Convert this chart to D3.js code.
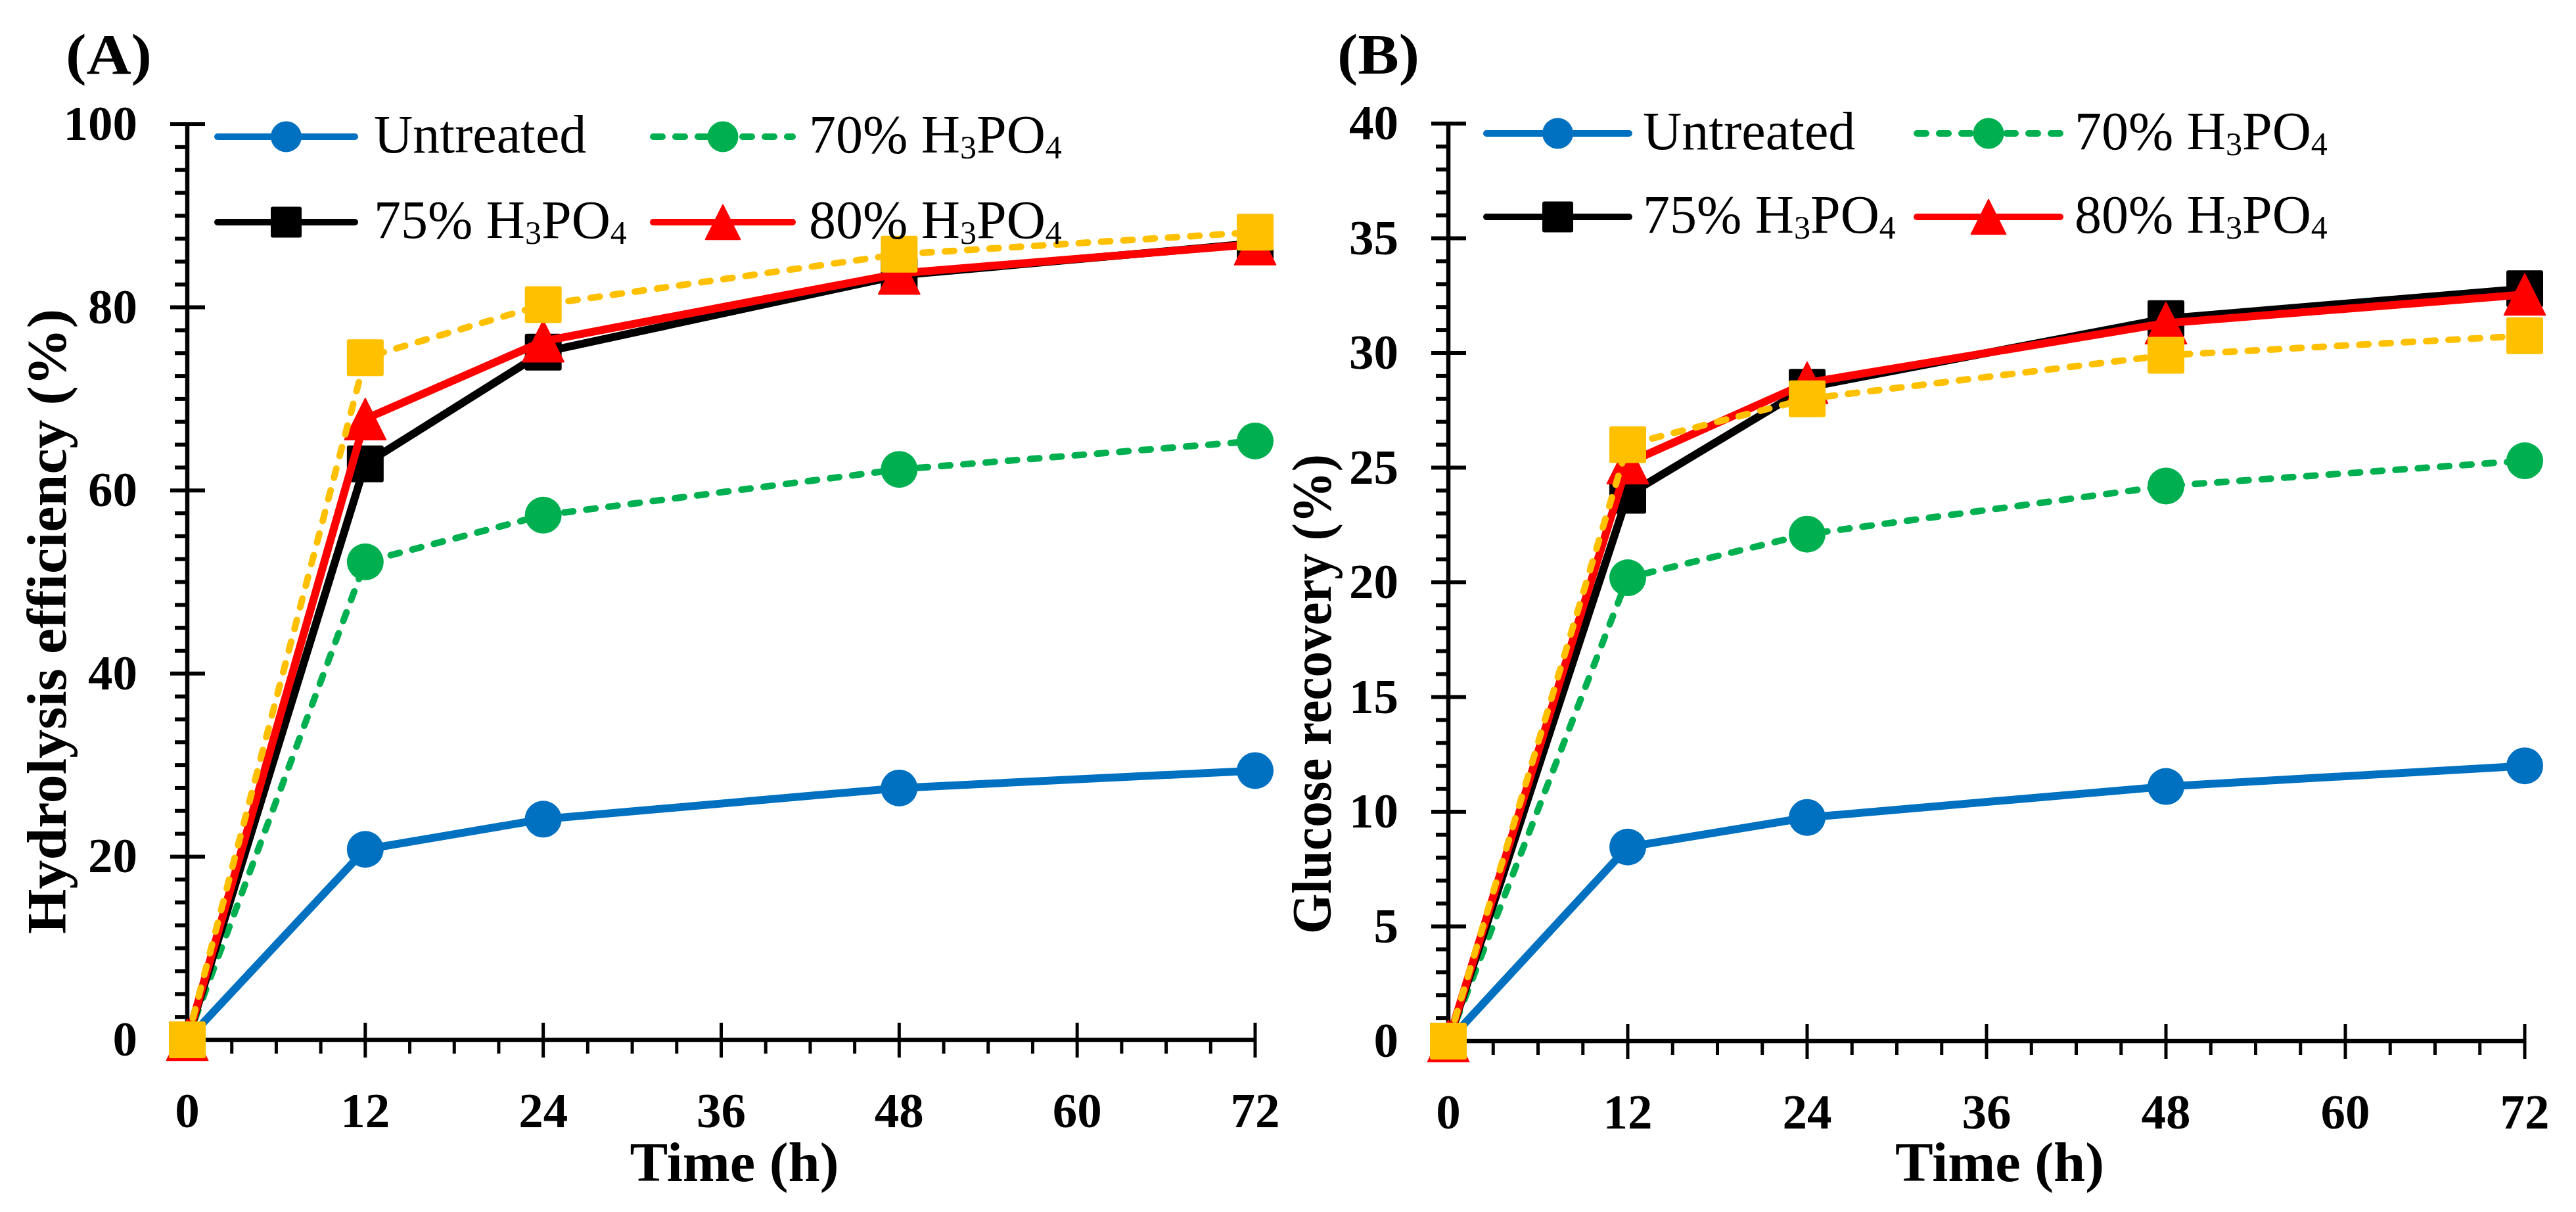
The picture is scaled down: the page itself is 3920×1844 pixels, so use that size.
<!DOCTYPE html>
<html><head><meta charset="utf-8">
<script src="https://cdn.jsdelivr.net/npm/d3@7"></script>
<style>body{margin:0;background:#fff}</style>
</head><body>
<svg id="c" width="3920" height="1844" xmlns="http://www.w3.org/2000/svg"></svg>
<script>
// ---------- data ----------
const times = [0, 12, 24, 48, 72];
const xTicks = [0, 12, 24, 36, 48, 60, 72];
const yTicksA = [0, 20, 40, 60, 80, 100];
const yTicksB = [0, 5, 10, 15, 20, 25, 30, 35, 40];
const legendNames = ["Untreated", "70%", "75%", "80%"];

// (A) Hydrolysis efficiency (%)
const hydUntreated = [0, 20.8, 24.1, 27.5, 29.4];
const hyd70 = [0, 52.2, 57.3, 62.3, 65.4];
const hyd75 = [0, 62.9, 75.1, 83.5, 87.0];
const hyd80 = [0, 67.8, 76.3, 83.7, 86.9];
const hydExtra = [0, 74.5, 80.3, 85.8, 88.2];
// (B) Glucose recovery (%)
const gluUntreated = [0, 8.46, 9.75, 11.1, 12.0];
const glu70 = [0, 20.2, 22.1, 24.2, 25.3];
const glu75 = [0, 23.8, 28.5, 31.5, 32.8];
const glu80 = [0, 25.2, 28.7, 31.3, 32.55];
const gluExtra = [0, 26.0, 28.0, 29.9, 30.75];

// ---------- styles ----------
const styles = [
  {color: "#0070C0", dash: null, marker: "circle"},
  {color: "#00B050", dash: "14 20", marker: "circle"},
  {color: "#000000", dash: null, marker: "square"},
  {color: "#FF0000", dash: null, marker: "triangle"},
  {color: "#FFC000", dash: "14 20", marker: "square"}
];
const FONT = "'Liberation Serif', 'Times New Roman', serif";
const svg = d3.select("#c");

function drawMarker(g, type, cx, cy, s, color) {
  if (type === "circle") {
    g.append("ellipse").attr("cx", cx).attr("cy", cy).attr("rx", s / 2).attr("ry", s / 2).attr("fill", color);
  } else if (type === "square") {
    g.append("rect").attr("x", cx - s / 2).attr("y", cy - s / 2).attr("width", s).attr("height", s)
      .attr("rx", 3).attr("fill", color);
  } else {
    const w = s * 1.12, h = s * 1.12;
    g.append("path").attr("d", `M${cx},${cy - h / 2}L${cx + w / 2},${cy + h / 2}L${cx - w / 2},${cy + h / 2}Z`)
      .attr("fill", color).attr("stroke", color).attr("stroke-width", 2).attr("stroke-linejoin", "round");
  }
}

function panel(cfg) {
  const x = d3.scaleLinear().domain([0, 72]).range([cfg.x0, cfg.x1]);
  const y = d3.scaleLinear().domain([0, cfg.ymax]).range([cfg.yB, cfg.yT]);
  const g = svg.append("g");

  // axes lines
  g.append("line").attr("x1", x(0)).attr("x2", x(72)).attr("y1", y(0)).attr("y2", y(0))
    .attr("stroke", "#000").attr("stroke-width", 6.5);
  g.append("line").attr("x1", x(0)).attr("x2", x(0)).attr("y1", y(0)).attr("y2", y(cfg.ymax))
    .attr("stroke", "#000").attr("stroke-width", 6.5);

  // x ticks
  const xMinor = d3.range(0, 72.001, 3).filter(v => v % 12 !== 0);
  xMinor.forEach(v => g.append("line").attr("x1", x(v)).attr("x2", x(v)).attr("y1", y(0)).attr("y2", y(0) + 21)
    .attr("stroke", "#000").attr("stroke-width", 5));
  xTicks.forEach(v => g.append("line").attr("x1", x(v)).attr("x2", x(v)).attr("y1", y(0) - 26).attr("y2", y(0) + 27)
    .attr("stroke", "#000").attr("stroke-width", 5));
  // y ticks
  const yMinor = d3.range(0, cfg.ymax + 0.001, cfg.minorY).filter(v => Math.abs(v / cfg.majorY - Math.round(v / cfg.majorY)) > 1e-6);
  yMinor.forEach(v => g.append("line").attr("x1", x(0) - 19).attr("x2", x(0)).attr("y1", y(v)).attr("y2", y(v))
    .attr("stroke", "#000").attr("stroke-width", 6));
  cfg.yTicks.forEach(v => g.append("line").attr("x1", x(0) - 26).attr("x2", x(0) + 27).attr("y1", y(v)).attr("y2", y(v))
    .attr("stroke", "#000").attr("stroke-width", 6));

  // tick labels
  xTicks.forEach(v => g.append("text").attr("x", x(v)).attr("y", y(0) + 133).attr("text-anchor", "middle")
    .attr("font-family", FONT).attr("font-weight", "bold").attr("font-size", 75).text(v));
  cfg.yTicks.forEach(v => g.append("text").attr("x", x(0) - 76).attr("y", y(v) + 24).attr("text-anchor", "end")
    .attr("font-family", FONT).attr("font-weight", "bold").attr("font-size", 75).text(v));

  // axis titles
  g.append("text").attr("x", (x(0) + x(72)) / 2 + 20).attr("y", 1797).attr("text-anchor", "middle")
    .attr("font-family", FONT).attr("font-weight", "bold").attr("font-size", 84)
    .attr("textLength", 318).attr("lengthAdjust", "spacingAndGlyphs").text("Time (h)");
  g.append("text").attr("transform", `translate(${cfg.ylabX},1421) rotate(-90)`).attr("text-anchor", "start")
    .attr("font-family", FONT).attr("font-weight", "bold").attr("font-size", 84)
    .attr("textLength", cfg.ylabLen).attr("lengthAdjust", "spacingAndGlyphs").text(cfg.ylabel);
  // panel label
  g.append("text").attr("x", cfg.plX).attr("y", 112).attr("font-family", FONT).attr("font-weight", "bold")
    .attr("font-size", 86).attr("textLength", cfg.plLen).attr("lengthAdjust", "spacingAndGlyphs").text(cfg.pl);

  // series
  const line = d3.line().x((d, i) => x(times[i])).y(d => y(d));
  cfg.series.forEach((vals, si) => {
    const st = styles[si];
    const sg = g.append("g");
    sg.append("path").datum(vals).attr("d", line).attr("fill", "none").attr("stroke", st.color)
      .attr("stroke-width", st.dash ? 10 : 12).attr("stroke-linecap", "round").attr("stroke-linejoin", "round")
      .attr("stroke-dasharray", st.dash);
    vals.forEach((v, i) => drawMarker(sg, st.marker, x(times[i]), y(v), 56, st.color));
  });

  // legend
  const L = cfg.legend;
  legendNames.forEach((name, i) => {
    const st = styles[i];
    const col = i % 2, row = Math.floor(i / 2);
    const c = L.cols[col], ry = L.rows[row];
    const lg = g.append("g");
    lg.append("line").attr("x1", c[0]).attr("x2", c[1]).attr("y1", ry).attr("y2", ry).attr("stroke", st.color)
      .attr("stroke-width", 10).attr("stroke-linecap", "round").attr("stroke-dasharray", st.dash);
    drawMarker(lg, st.marker, (c[0] + c[1]) / 2, ry, 47, st.color);
    const t = lg.append("text").attr("x", c[2]).attr("y", ry + 24).attr("font-family", FONT).attr("font-size", 82);
    if (i === 0) {
      t.text(name);
    } else {
      t.append("tspan").text(name + " H");
      t.append("tspan").attr("font-size", 50).attr("dy", 9).text("3");
      t.append("tspan").attr("dy", -9).text("PO");
      t.append("tspan").attr("font-size", 50).attr("dy", 9).text("4");
    }
  });
}

panel({
  x0: 285, x1: 1910, yB: 1582, yT: 189, ymax: 100, majorY: 20, minorY: 2.5, yTicks: yTicksA,
  ylabel: "Hydrolysis efficiency (%)", ylabX: 100, ylabLen: 951, pl: "(A)", plX: 100, plLen: 131,
  series: [hydUntreated, hyd70, hyd75, hyd80, hydExtra],
  legend: {rows: [208, 338], cols: [[331, 540, 569], [994, 1206, 1231]]}
});
panel({
  x0: 2204, x1: 3842, yB: 1584, yT: 188, ymax: 40, majorY: 5, minorY: 1, yTicks: yTicksB,
  ylabel: "Glucose recovery (%)", ylabX: 2025, ylabLen: 730, pl: "(B)", plX: 2035, plLen: 125,
  series: [gluUntreated, glu70, glu75, glu80, gluExtra],
  legend: {rows: [203, 330], cols: [[2262, 2479, 2500], [2917, 3135, 3157]]}
});
</script>
</body></html>
